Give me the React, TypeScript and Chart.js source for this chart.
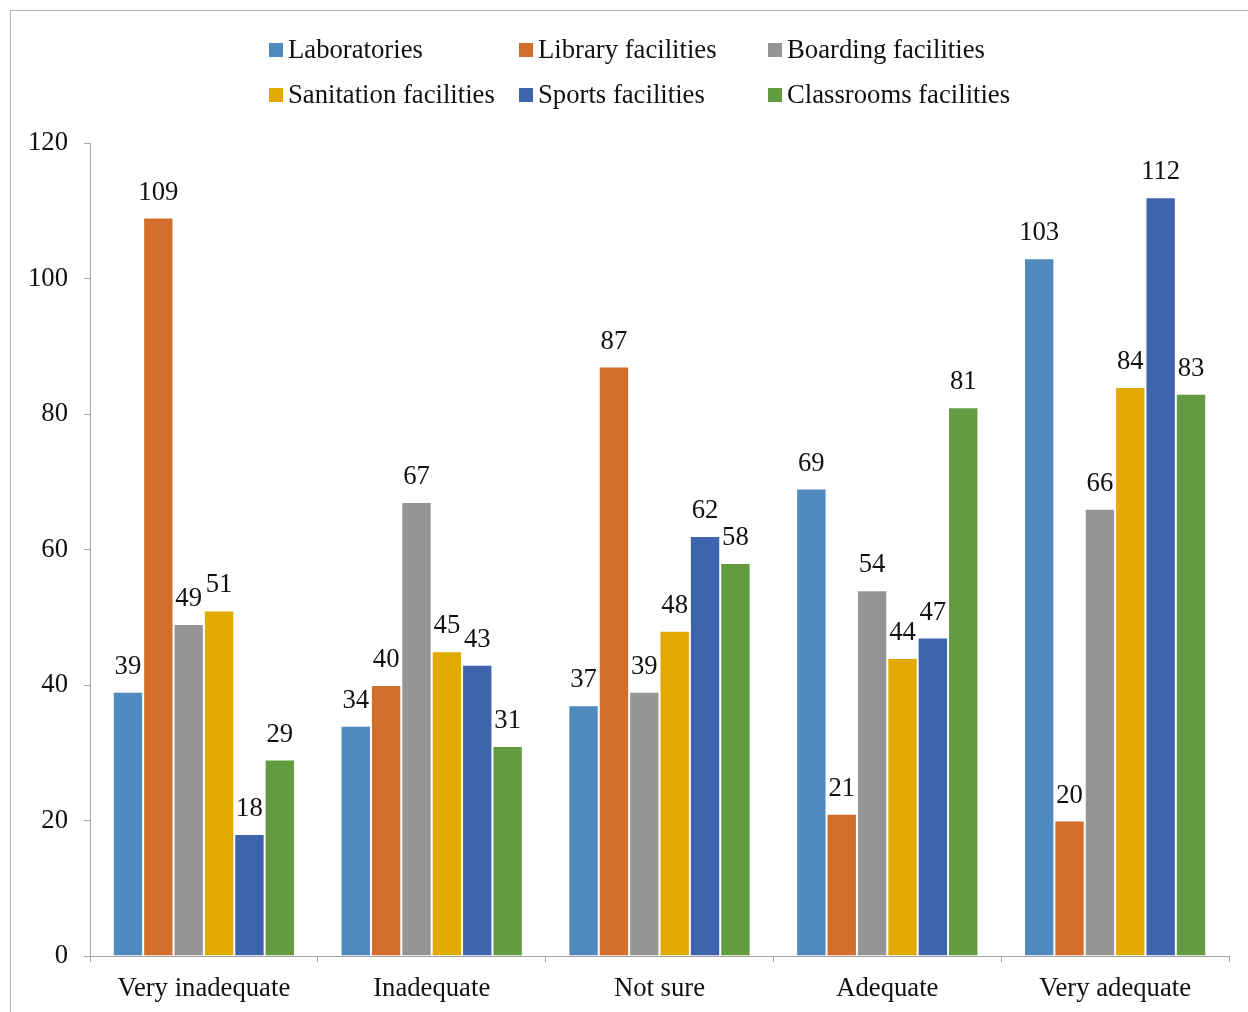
import React, { useEffect, useRef } from "react";
import { Chart, registerables } from "chart.js";

Chart.register(...registerables);

const categories = ["Very inadequate", "Inadequate", "Not sure", "Adequate", "Very adequate"];
const seriesNames = [
  "Laboratories",
  "Library facilities",
  "Boarding facilities",
  "Sanitation facilities",
  "Sports facilities",
  "Classrooms facilities",
];
const laboratories = [39, 34, 37, 69, 103];
const library = [109, 40, 87, 21, 20];
const boarding = [49, 67, 39, 54, 66];
const sanitation = [51, 45, 48, 44, 84];
const sports = [18, 43, 62, 47, 112];
const classrooms = [29, 31, 58, 81, 83];
const seriesColors = ["#4F89BD", "#D36D2C", "#959595", "#E2AA00", "#3E64AD", "#629B40"];
const yTicks = [0, 20, 40, 60, 80, 100, 120];

const FONT = '"Liberation Serif", "Times New Roman", serif';
const FS = 26.7;

const labelPlugin = {
  id: "barLabels",
  afterDatasetsDraw(chart: any) {
    const ctx = chart.ctx;
    ctx.save();
    ctx.font = `${FS}px ${FONT}`;
    ctx.fillStyle = "#111";
    ctx.textAlign = "center";
    ctx.textBaseline = "middle";
    chart.data.datasets.forEach((ds: any, i: number) => {
      const meta = chart.getDatasetMeta(i);
      meta.data.forEach((el: any, j: number) => {
        ctx.fillText(String(ds.data[j]), el.x, el.y - 25);
      });
    });
    ctx.restore();
  },
};

const legendPlugin = {
  id: "customLegend",
  afterDraw(chart: any) {
    const ctx = chart.ctx;
    ctx.save();
    ctx.font = `${FS}px ${FONT}`;
    ctx.textBaseline = "middle";
    ctx.textAlign = "left";
    const cols = [269, 519, 768];
    const rows = [50, 95];
    chart.data.datasets.forEach((ds: any, i: number) => {
      const x = cols[i % 3];
      const y = rows[Math.floor(i / 3)];
      ctx.fillStyle = ds.backgroundColor;
      ctx.fillRect(x, y - 7, 14, 14);
      ctx.fillStyle = "#111";
      ctx.fillText(ds.label, x + 19, y + 1);
    });
    ctx.restore();
  },
};

export default function App() {
  const ref = useRef<HTMLCanvasElement | null>(null);
  useEffect(() => {
    if (!ref.current) return;
    const values = [laboratories, library, boarding, sanitation, sports, classrooms];
    const chart = new Chart(ref.current, {
      type: "bar",
      data: {
        labels: categories,
        datasets: values.map((v, i) => ({
          label: seriesNames[i],
          data: v,
          backgroundColor: seriesColors[i],
          borderColor: "rgba(255,255,255,0.55)",
          borderWidth: 1,
          categoryPercentage: 0.8,
          barPercentage: 1.0,
        })),
      },
      options: {
        animation: false,
        responsive: false,
        maintainAspectRatio: false,
        layout: { padding: { top: 143, right: 19, left: 0, bottom: 0 } },
        plugins: {
          legend: { display: false },
          tooltip: { enabled: false },
        },
        scales: {
          x: {
            grid: {
              display: true,
              drawOnChartArea: false,
              drawTicks: true,
              tickLength: 6,
              color: "#a6a6a6",
              offset: true,
            },
            border: { color: "#a6a6a6", width: 1 },
            ticks: {
              color: "#111",
              font: { family: FONT, size: FS },
              padding: 11,
              maxRotation: 0,
            },
            afterFit(scale: any) {
              scale.height = 56;
            },
          },
          y: {
            min: 0,
            max: 120,
            afterBuildTicks(scale: any) {
              scale.ticks = yTicks.map((v) => ({ value: v }));
            },
            grid: {
              display: true,
              drawOnChartArea: false,
              drawTicks: true,
              tickLength: 6,
              color: "#a6a6a6",
            },
            border: { color: "#a6a6a6", width: 1 },
            ticks: {
              color: "#111",
              font: { family: FONT, size: FS },
              padding: 16,
            },
            afterFit(scale: any) {
              scale.width = 90;
            },
          },
        },
      },
      plugins: [labelPlugin, legendPlugin],
    });
    return () => chart.destroy();
  }, []);

  return (
    <div
      style={{
        position: "fixed",
        left: 0,
        top: 0,
        width: 1248,
        height: 1012,
        overflow: "hidden",
        background: "#fff",
      }}
    >
      <div
        style={{
          position: "absolute",
          left: 10,
          top: 10,
          width: 1300,
          height: 1100,
          border: "1px solid #b4b4b4",
        }}
      />
      <canvas
        ref={ref}
        width={1248}
        height={1012}
        style={{ position: "absolute", left: 0, top: 0, width: 1248, height: 1012 }}
      />
    </div>
  );
}
